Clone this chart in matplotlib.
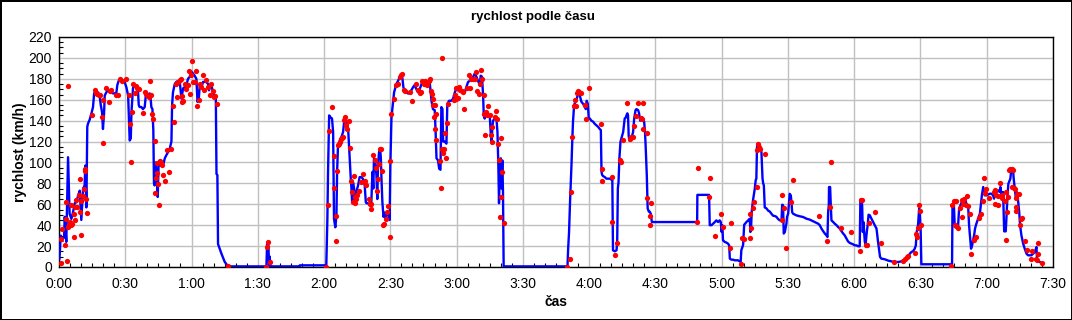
import matplotlib
matplotlib.use("Agg")
import matplotlib.pyplot as plt
from matplotlib.ticker import MultipleLocator

plt.rcParams['font.family'] = ['Liberation Sans', 'DejaVu Sans']

# time in minutes, speed in km/h
line_t = [0.2, 0.8, 1.1, 2.3, 2.6, 3.3, 4.1, 4.8, 5.6, 6.4, 7.1, 7.9, 8.6, 9.4, 10.1, 10.9, 11.6, 11.9, 12.4, 12.8,
          13.1, 13.9, 14.7, 15.4, 15.9, 16.2, 16.9, 17.7, 18.4, 18.9, 19.5, 19.9, 20.4, 20.7, 21.4, 22.2, 23.0, 23.7,
          24.5, 25.2, 26.0, 26.4, 27.0, 28.2, 29.0, 29.7, 30.5, 31.3, 31.7, 32.0, 32.5, 32.8, 33.5, 34.0, 35.0, 35.8,
          36.1, 36.5, 37.3, 38.0, 38.8, 39.3, 40.0, 40.8, 41.1, 41.5, 41.8, 42.3, 42.7, 43.0, 43.3, 43.8, 44.2, 44.7,
          45.1, 45.6, 46.0, 46.7, 47.1, 47.9, 48.6, 49.4, 50.1, 50.9, 51.2, 51.6, 52.4, 53.1, 53.9,
          54.7, 55.4, 56.2, 56.9, 57.7, 58.4, 59.2, 59.9, 60.7, 61.4, 62.2, 62.7, 63.3, 63.7, 64.5, 65.2, 66.0, 66.7,
          67.5, 67.9, 68.5, 69.0, 69.7, 70.5, 71.0, 71.3, 71.7, 72.0, 72.5, 73.5, 75.0, 76.5, 93.9, 94.2, 94.8, 95.1,
          95.4, 95.7, 109.0, 109.0,
          120.6, 121.0, 121.5, 121.8, 122.3, 123.0, 123.6, 124.1, 124.5, 125.1, 125.6, 125.9, 126.3, 127.1, 127.8,
          128.6, 129.1, 129.7, 130.1, 130.9, 131.3, 131.8, 132.1, 132.4, 132.7, 133.1, 133.6, 133.9, 134.6, 135.4,
          136.1, 136.9, 137.7, 138.4, 138.9, 139.2, 139.9, 140.7, 141.4, 141.9, 142.3, 142.6, 143.2, 143.7, 144.1,
          144.4, 144.9, 145.4, 145.7, 146.0, 146.4, 146.9, 147.5, 147.9, 148.7, 149.3, 149.7, 150.0, 150.5, 150.9,
          151.4, 151.7, 152.3, 152.7, 153.5, 154.3, 155.0, 155.5, 155.9, 156.5, 157.3, 158.0, 158.8, 159.5, 160.3,
          161.0, 161.8, 162.6, 163.3, 164.1, 164.8, 165.6, 166.3, 167.1, 167.8, 168.3, 168.7, 169.3, 170.1,
          170.5, 170.9, 171.6, 172.1, 172.7, 173.1, 173.6, 173.9, 174.6, 175.4, 175.8, 176.6, 177.6, 178.4, 179.2,
          179.9, 180.7, 181.4, 182.2, 182.9, 183.7, 184.4, 185.2, 185.9, 186.7, 187.5, 188.2, 189.0, 189.7, 190.5,
          190.9, 191.5, 192.0, 192.3, 192.7, 193.2, 193.8, 194.2, 195.0, 195.5, 195.9, 196.2, 196.5, 197.3, 198.0,
          198.5, 198.9, 199.2, 199.5, 200.0, 200.3, 200.7, 201.0, 201.3, 230.2,
          230.5, 230.9, 231.4, 232.0, 232.4, 232.7, 233.2, 233.8, 234.4, 235.0, 235.5, 235.9, 236.5, 237.3, 238.0,
          238.5, 238.9, 239.4, 239.8, 240.3, 241.0, 241.8, 242.5, 243.3, 244.1, 244.8, 245.3, 245.6, 245.9, 246.3,
          247.1, 247.8, 248.6, 249.3, 250.1, 250.5, 250.8, 251.6, 252.4, 252.7, 253.0, 253.3, 253.7, 254.2, 254.6,
          255.4, 256.1, 256.6, 256.9, 257.3, 257.6, 257.9, 258.2, 259.1, 259.9, 260.4, 261.0, 261.4, 262.2, 262.6,
          263.1, 263.4, 264.0, 264.4, 264.9, 265.3, 265.6, 266.1, 266.5, 267.0, 267.4, 267.9, 268.4, 288.9,
          289.0, 294.3, 294.6, 295.4, 296.1, 296.9, 297.6, 298.4, 299.1, 299.6, 300.0, 300.3, 300.6, 301.4, 302.2,
          302.9, 303.4, 303.7, 304.4, 305.2, 305.9, 306.7, 307.4, 308.2, 308.6, 308.9, 309.7, 310.2, 310.6, 311.2,
          312.0, 312.7, 313.0, 313.3, 313.6, 314.2, 315.0, 315.4, 315.7, 316.0, 316.3, 316.9, 317.5, 318.0, 318.5,
          318.8, 319.1, 319.5, 320.3, 321.0, 321.8, 322.5, 323.3, 324.0, 324.8, 325.5, 326.3, 327.1, 327.4, 327.8,
          328.1, 328.6, 329.0, 329.3, 329.6, 330.1, 330.8, 331.3, 331.6, 331.9, 332.3, 333.8, 335.4, 336.9, 338.4,
          339.9, 340.6, 342.2, 343.7, 344.4, 345.2, 345.9, 346.7, 347.4, 347.9, 348.2, 348.5, 348.6, 349.1, 349.4,
          349.7, 350.5, 351.2, 352.0, 352.7, 353.5, 354.2, 355.0, 355.7, 356.5, 357.2, 358.0, 358.8, 359.5, 360.3,
          361.0, 361.8, 362.5, 362.8, 363.3, 363.6, 363.9, 364.2, 364.5, 364.8, 365.2, 365.7, 366.1, 366.5, 367.1,
          367.8, 368.6, 369.3, 370.1, 370.8, 371.3, 371.7, 372.3, 373.8, 375.4, 376.9, 377.6, 379.9, 381.4, 382.9,
          383.7, 384.4, 385.2, 385.9, 386.7, 387.4, 387.9, 388.3, 388.9, 389.4, 389.7, 390.1, 390.4, 404.3,
          404.5, 405.1, 405.5, 406.3, 407.0, 407.5, 408.1, 408.7, 409.3, 410.1, 410.8, 411.6, 412.0, 412.5, 412.9,
          413.4, 413.8, 414.3, 414.7, 415.3, 416.1, 416.9, 417.3, 417.8, 418.4, 419.1, 419.9, 420.6, 421.4, 422.1,
          422.9, 423.3, 423.8, 424.4, 424.9, 425.3, 425.9, 426.2, 426.7, 427.4, 427.9, 428.6, 428.9, 429.4, 429.8,
          430.4, 430.7, 431.0, 431.5, 431.9, 432.2, 432.7, 433.2, 433.6, 434.1, 434.7, 435.1, 435.7, 436.5, 437.2,
          438.0, 438.7, 439.5, 440.2, 441.0, 441.8, 442.5, 442.8, 443.3, 444.0]
line_v = [8, 30, 28, 28, 48, 24, 105, 51, 46, 53, 61, 62, 68, 73, 45, 75, 78, 97, 57, 134,
          137, 141, 147, 153, 166, 167, 167, 167, 164, 155, 148, 132, 147, 164, 167, 169, 167, 167,
          166, 166, 167, 174, 178, 180, 178, 177, 172, 164, 139, 121, 123, 148, 171, 174, 172, 167,
          155, 153, 153, 151, 153, 164, 166, 164, 166, 161, 153, 151, 131, 80, 78, 100, 88, 67,
          99, 102, 97, 99, 97, 104, 107, 110, 113, 120, 155, 167, 175, 177, 178,
          177, 161, 171, 172, 174, 180, 182, 187, 185, 183, 180, 158, 161, 174, 172, 177, 177, 177,
          175, 169, 174, 174, 167, 163, 161, 89, 88, 22, 19, 13, 5, 0.6, 0.6, 22, 21, 1.6,
          10, 0.6, 0.6, 1.6,
          1.6, 0.6, 46, 91, 145, 143, 142, 129, 46, 38, 49, 91, 116, 121, 124,
          129, 139, 142, 140, 132, 116, 94, 84, 75, 62, 81, 75, 61, 72, 78,
          86, 86, 84, 78, 62, 61, 61, 59, 62, 91, 75, 104, 100, 88, 65,
          97, 110, 113, 104, 84, 62, 48, 52, 46, 51, 53, 45, 97, 142, 151,
          161, 167, 172, 175, 178, 182, 183, 180, 172, 168, 167, 166, 166, 169, 172,
          174, 170, 167, 170, 175, 177, 175, 174, 177, 177, 167, 158, 151, 150,
          129, 104, 102, 94, 93, 153, 151, 120, 120, 118, 156, 159, 159, 161, 167,
          171, 169, 171, 169, 167, 167, 172, 177, 178, 180, 182, 185, 182, 178, 174,
          183, 182, 164, 145, 142, 148, 147, 145, 145, 126, 120, 134, 140, 142, 143,
          129, 97, 61, 91, 104, 75, 102, 72, 0.6, 0.6,
          17.5, 33, 65, 97, 123, 139, 155, 158, 161, 166, 166, 163, 158, 156, 153,
          151, 159, 156, 143, 142, 140, 139, 137, 135.5, 134, 132, 131, 91, 88, 87,
          86, 84.5, 84.5, 84.5, 83.5, 83, 16, 15, 16, 24, 75, 81, 104, 120, 123,
          129, 142, 143, 145, 147, 145, 126, 121, 123, 129, 142, 150, 151, 150, 147,
          140, 142, 143, 142, 139, 129, 115, 88, 56, 53, 53, 51, 43, 43,
          69, 69, 40, 40, 41.4, 43, 44.6, 43, 44.6, 43, 33.5, 40, 25.5, 24, 23.3,
          22.3, 20.7, 8, 7, 7, 6.4, 6.4, 6.4, 5.4, 4.8, 16, 21, 40.5, 41.4, 43,
          44.6, 46.2, 33.5, 36.7, 53, 64, 75, 83, 84.5, 115, 118, 116, 113, 110, 84.5,
          80, 78, 57, 56, 54, 53, 51, 49, 48.8, 48, 46, 44.6, 44.6, 59.6, 59,
          32, 33.5, 38, 41.4, 48, 51, 70, 68.5, 62, 52.6, 51, 49.4, 48.5, 47.8, 46.2,
          45.3, 44.6, 43, 41.4, 40, 36.7, 34.4, 32, 30.3, 28.7, 52.6, 59, 76.5, 76.5, 59,
          44.6, 43, 41.4, 40, 38.3, 36.7, 34.4, 32, 30.3, 27.1, 24.5, 23, 22.3, 21.7, 20.7,
          20.7, 19.8, 19.8, 64.4, 64.4, 59, 33.5, 43, 33.5, 24, 22.3, 33.5, 40, 50, 49.4,
          46.2, 43, 40, 36.7, 24, 16, 9.6, 8, 7.4, 6.1, 5.4, 4.8, 4.8, 5.4, 7,
          8, 9.6, 12.8, 14.3, 15.3, 17.5, 20.7, 33.5, 40, 55.8, 52.6, 33.5, 2.6, 2.6,
          59, 60.6, 40, 40, 38.3, 55.8, 59, 62.2, 63.8, 65.4, 60.6, 57.4, 40, 27.1, 17.5,
          20.7, 25.5, 30.3, 36.7, 41.4, 46.2, 51, 59, 68.5, 76.5, 68.5, 68.5, 69.2, 70.1, 70.1,
          68.5, 65.4, 73.3, 71.7, 72.4, 73.3, 71.7, 76.5, 68.5, 71.7, 34.1, 34.1, 46.2, 68.5, 79.7,
          82.9, 84.5, 90.9, 94.1, 94.1, 84.5, 74.9, 65.4, 71.7, 65.4, 52.6, 39.9, 30.3, 22.3, 17.5,
          12.8, 11.2, 11.2, 11.2, 12.8, 14.3, 19.1, 6.4, 5.4, 4.8]

dot_t = [1.1, 3.8, 4.2, 1.4, 2.6, 1.1, 3.3, 3.0, 4.1, 4.8, 4.7, 5.6, 5.9, 5.3, 6.7, 6.8, 7.1, 7.4, 7.9, 8.3,
         8.9, 9.7, 9.4, 10.1, 10.1, 10.7, 11.3, 11.6, 11.9, 12.4, 12.8, 15.1, 16.2, 16.6, 17.4, 18.1, 18.4, 19.8,
         20.1, 19.3, 21.1, 22.5, 23.0, 23.7, 26.0, 26.7, 27.8, 28.7, 30.5, 31.6, 32.0, 32.5, 33.2, 33.7, 34.3,
         35.0, 35.5, 36.1, 38.2, 38.8, 39.3, 40.0, 40.6, 41.1, 41.8, 42.3, 42.7, 43.3, 43.6, 43.9, 44.2, 44.5,
         44.8, 45.1, 45.6, 46.0, 46.7, 47.0, 47.9, 49.7, 49.1, 50.9, 51.5, 51.9, 52.8, 53.3, 53.9, 54.7, 55.1,
         55.7, 56.2,
         55.9, 56.9, 57.7, 58.4, 59.2, 58.9, 59.9, 60.4, 60.7, 61.4, 62.2, 62.5, 63.4, 64.0, 64.5, 65.2, 65.7,
         66.7, 67.5, 68.2, 69.0, 69.7, 70.2, 70.8, 71.7, 76.7, 93.9, 94.2, 94.8, 95.7,
         121.1, 121.8, 122.3, 123.8, 124.4, 124.4, 125.3, 125.6, 126.0, 126.3, 126.8, 127.1, 127.5, 128.1, 128.6,
         129.1, 129.7, 130.1, 130.6, 131.2, 131.6, 132.4, 132.8, 133.1, 133.6, 133.9, 134.2, 134.6, 135.1, 135.8,
         136.6, 137.7, 138.4, 138.9, 140.4, 140.8, 141.1, 141.4, 142.2, 143.2, 143.7, 144.1, 144.4, 144.7, 145.4,
         145.7, 146.1, 146.7, 147.0, 147.9, 148.7, 149.0, 149.7, 150.0, 150.5, 151.7, 152.7, 153.5, 154.3, 155.0,
         155.5, 156.2, 156.5, 158.8, 160.0, 161.4, 162.6, 163.3, 164.1, 164.5, 165.3, 165.9, 166.8, 167.4, 168.0,
         168.6, 168.9, 169.2, 169.5, 169.8,
         170.1, 170.6, 170.4, 170.9, 172.4, 172.8, 173.6, 173.9, 174.3, 174.9, 175.4, 175.8, 176.1, 173.3, 178.7,
         179.2, 179.6, 179.9, 180.5, 181.1, 181.7, 182.3, 182.9, 183.5, 184.7, 185.6, 186.2, 186.7, 187.5, 188.2,
         189.0, 189.4, 190.0, 190.8, 191.2, 191.7, 192.3, 192.4, 192.7, 193.2, 193.8, 194.4, 195.0, 195.5, 195.8,
         196.2, 197.3, 198.0, 198.5, 198.8, 199.1, 199.5, 200.0, 200.3, 200.7, 201.3,
         230.2, 231.2, 232.0, 232.4, 233.2, 233.5, 234.2, 234.7, 235.0, 235.5, 236.2, 238.3, 238.8, 240.1, 245.3,
         245.6, 246.0, 250.5, 250.5, 251.9, 252.8, 253.9, 254.3, 255.4, 257.3, 258.4, 259.1, 259.9, 260.2, 261.1,
         262.2, 263.4, 264.0, 264.4, 264.3, 266.1, 266.4, 268.2, 267.7, 267.4,
         288.9, 289.3, 294.3, 294.6, 296.9, 299.6, 300.6, 303.7, 304.1, 308.6, 309.4, 310.2, 312.7, 313.0, 313.5,
         314.4, 314.5, 315.9, 316.2, 316.3, 316.9, 317.5, 319.5, 327.4, 327.1, 328.1, 329.3, 331.3, 332.2,
         344.0, 347.9, 348.9, 349.7, 354.2, 358.5, 362.5, 363.0, 363.7, 365.2, 365.7, 366.5, 369.6, 372.0, 377.9,
         382.1, 382.9, 383.7, 384.4, 387.4, 388.2, 388.6, 388.9, 389.5, 390.0, 390.4,
         404.0, 404.5, 405.1, 405.5, 406.0, 406.3, 407.0, 407.8, 408.6, 409.0, 409.3, 409.9, 410.5, 411.0, 411.6,
         412.3, 413.1, 414.1, 415.0, 416.6, 417.3, 418.1, 418.7, 419.3, 419.6, 420.8, 423.2, 423.8, 423.6, 424.4,
         424.9, 425.2, 426.2, 426.7, 427.1, 428.2, 428.6, 429.2, 428.9, 429.8, 430.1, 430.7, 431.3, 431.8, 431.6,
         432.2, 432.7, 433.2, 433.5, 434.4, 433.2, 433.2, 435.0, 435.4, 435.9, 437.2, 438.4, 439.9, 440.7, 442.2,
         443.0, 443.3, 442.7, 444.8]
dot_v = [4.1, 6.1, 173.4, 36.7, 21.4, 26.5, 62.2, 46.2, 38.3, 43.0, 40.5, 40.5, 41.4, 59.6, 29.0, 51.0, 45.3,
         57.4, 64.4, 57.4, 69.2, 84.5, 52.6, 30.9, 63.4, 67.9, 74.3, 94.1, 91.5, 65.4, 51.6, 145.7, 169.0, 166.7,
         165.8, 164.8, 164.2, 159.7, 118.9, 143.5, 171.5, 157.8, 168.7, 169.3, 164.2, 164.8, 179.8, 178.2, 179.8,
         164.2, 137.1, 100.4, 148.3, 175.4, 166.4, 173.1, 171.5, 170.6, 147.6, 167.4, 165.8, 164.2, 162.6, 177.9,
         164.8, 146.7, 141.9, 120.5, 70.8, 85.4, 99.8, 89.6, 79.7, 59.6, 101.7, 99.8, 97.2, 88.3, 82.3, 90.9,
         111.9, 112.9, 154.0, 138.7, 175.0, 162.3, 176.9, 179.2, 179.8, 163.6, 158.5,
         157.8, 175.4, 169.9, 174.4, 165.8, 187.8, 183.3, 196.7, 176.9, 176.9, 187.8, 154.0, 159.4, 175.4, 172.2,
         183.3, 169.0, 179.2, 172.2, 164.2, 175.4, 168.0, 162.6, 163.6, 156.2, 1.0, 0.0, 19.1, 23.9, 4.8,
         0.0, 59.6, 129.8, 153.0, 106.2, 75.9, 24.5, 48.8, 91.5, 116.4, 118.0, 119.6, 122.7, 123.4, 124.3,
         140.3, 143.5, 135.5, 132.3, 139.3, 113.8, 82.3, 71.7, 62.2, 87.0, 67.0, 61.5, 65.4, 68.5, 72.4,
         81.3, 89.3, 82.3, 78.1, 65.4, 60.6, 60.3, 55.8, 106.8, 102.0, 94.7, 72.4, 84.5, 98.8, 112.5,
         113.2, 91.5, 39.9, 41.4, 46.2, 52.6, 58.3, 28.7, 101.4, 146.7, 161.0, 173.8, 175.4, 181.7, 183.3,
         184.3, 169.0, 168.0, 167.4, 158.8, 175.4, 169.0, 166.4, 167.4, 177.6, 175.4, 177.6, 173.8, 177.6, 179.5,
         168.0, 165.5, 161.0, 155.3, 143.5,
         155.3, 146.7, 131.7, 121.2, 101.4, 75.9, 112.5, 109.4, 113.2, 128.5, 104.6, 138.0, 156.2, 199.9, 159.4,
         164.2, 171.2, 161.0, 162.0, 172.2, 169.6, 168.0, 167.4, 151.4, 171.2, 183.3, 171.2, 179.5, 180.1, 180.1,
         186.5, 168.0, 165.8, 175.4, 188.7, 180.1, 164.2, 146.7, 125.9, 148.3, 145.1, 154.0, 145.1, 126.6, 119.6,
         133.9, 143.5, 149.2, 141.2, 117.6, 102.0, 47.8, 67.0, 123.4, 90.9, 42.1,
         0.0, 8.0, 71.7, 124.3, 154.0, 160.0, 154.0, 166.7, 168.7, 167.4, 166.1, 154.6, 141.9, 171.2, 137.1,
         82.3, 94.1, 86.1, 43.0, 11.8, 23.3, 102.0, 100.4, 121.8, 156.9, 122.7, 124.3, 124.3, 134.9, 144.4,
         157.2, 142.5, 141.2, 157.2, 132.3, 128.5, 66.3, 61.5, 48.8, 40.5,
         43.0, 94.7, 67.3, 85.1, 29.7, 50.7, 38.3, 18.2, 42.1, 3.2, 28.1, 27.1, 50.7, 28.1, 37.3,
         56.4, 62.2, 76.5, 111.6, 118.0, 114.8, 113.2, 108.4, 69.2, 45.3, 56.8, 18.2, 62.2, 83.5,
         49.1, 24.9, 57.4, 100.4, 37.3, 33.5, 15.3, 64.4, 64.4, 21.4, 21.4, 42.4, 52.6, 23.3, 4.8,
         6.1, 7.3, 9.2, 10.5, 13.7, 31.9, 28.7, 37.3, 59.6, 53.6, 39.9,
         0.6, 59.6, 62.8, 40.5, 62.8, 38.9, 37.3, 56.8, 48.1, 63.8, 60.6, 64.7, 59.6, 67.9, 58.3,
         51.0, 12.8, 25.5, 29.0, 47.2, 51.0, 63.1, 85.4, 70.8, 74.9, 66.3, 71.7, 73.3, 59.9, 68.5,
         59.6, 67.9, 80.3, 66.3, 69.2, 62.8, 71.7, 52.6, 26.1, 66.6, 92.5, 93.4, 94.1, 92.8, 76.5,
         75.6, 74.9, 66.0, 69.5, 69.8, 57.4, 53.6, 39.9, 45.6, 46.9, 25.2, 16.3, 7.3, 15.3, 8.0,
         23.3, 12.8, 7.0, 4.1]

tick_pos = list(range(0, 451, 30))
tick_lab = ['0:00', '0:30', '1:00', '1:30', '2:00', '2:30', '3:00', '3:30',
            '4:00', '4:30', '5:00', '5:30', '6:00', '6:30', '7:00', '7:30']

fig = plt.figure(figsize=(10.72, 3.2), dpi=100)
fig.patch.set_facecolor('white')
fig.patch.set_edgecolor('black')
fig.patch.set_linewidth(2)
ax = fig.add_axes([59 / 1072, 1 - 267 / 320, 994 / 1072, 230 / 320])

ax.plot(line_t, line_v, color='#0000ff', lw=1.7, zorder=3)
ax.plot(dot_t, dot_v, 'o', color='#ff0000', ms=3.8, mew=0, zorder=4)

ax.set_xlim(0, 450)
ax.set_ylim(0, 220)
ax.set_xticks(tick_pos)
ax.set_xticklabels(tick_lab)
ax.set_yticks(range(0, 221, 20))
ax.xaxis.set_minor_locator(MultipleLocator(5))
ax.yaxis.set_minor_locator(MultipleLocator(5))
ax.tick_params(which='both', direction='in', labelsize=10, top=False, right=False)
ax.tick_params(which='major', length=0)
ax.tick_params(axis='x', which='major', pad=7)
ax.tick_params(axis='y', which='major', pad=5)
ax.tick_params(which='minor', length=3, width=0.8)
ax.grid(True, which='major', color='#c0c0c0', lw=1, zorder=0)
for s in ax.spines.values():
    s.set_color('black')
    s.set_linewidth(1)

ax.set_xlabel('čas', fontsize=10, fontweight='bold', labelpad=3)
ax.set_ylabel('rychlost (km/h)', fontsize=10, fontweight='bold', labelpad=1)
fig.text(0.497, 1 - 17 / 320, 'rychlost podle času', ha='center', va='center', fontsize=9.5, fontweight='bold')

fig.savefig('out.png', dpi=100)
